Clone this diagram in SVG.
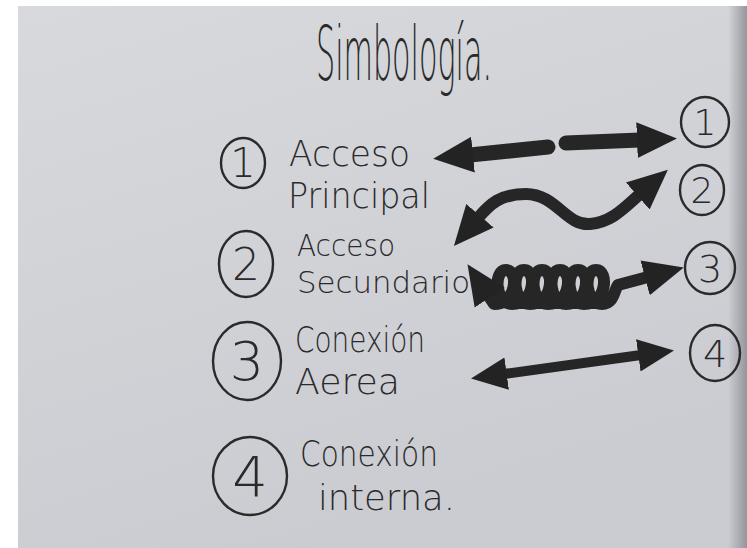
<svg xmlns="http://www.w3.org/2000/svg" width="747" height="548" viewBox="0 0 747 548">
<defs>
<linearGradient id="paper" x1="0" y1="0" x2="0.4" y2="1">
<stop offset="0" stop-color="#d8d9dd"/>
<stop offset="1" stop-color="#cbccd1"/>
</linearGradient>
<linearGradient id="shade" x1="0" y1="0" x2="1" y2="0">
<stop offset="0" stop-color="#8a8c91" stop-opacity="0"/>
<stop offset="1" stop-color="#8a8c91" stop-opacity="0.85"/>
</linearGradient>
<marker id="ah" viewBox="0 0 40 40" refX="3" refY="20" markerWidth="40" markerHeight="40" markerUnits="userSpaceOnUse" orient="auto-start-reverse">
<path d="M0,2 L40,20 L0,38 Z" fill="#232323"/>
</marker>
<marker id="ahs" viewBox="0 0 40 40" refX="3" refY="20" markerWidth="36" markerHeight="36" markerUnits="userSpaceOnUse" orient="auto-start-reverse">
<path d="M0,2 L40,20 L0,38 Z" fill="#232323"/>
</marker>
</defs>
<style>
text{font-family:"DejaVu Sans","Liberation Sans",sans-serif;font-weight:200;fill:#2a2a2a}
.l1{font-size:36px}
.l2{font-size:31px}
.num{text-anchor:middle}
.ring{fill:none;stroke:#2a2a2a;stroke-width:2.4}
.arr{fill:none;stroke:#262626;stroke-linecap:round;stroke-linejoin:round}
</style>
<rect width="747" height="548" fill="#ffffff"/>
<rect x="18" y="6" width="729" height="542" fill="url(#paper)"/>
<rect x="728" y="6" width="19" height="542" fill="url(#shade)"/>

<text id="title" x="316" y="80" font-size="74" textLength="176" lengthAdjust="spacingAndGlyphs">Simbología.</text>

<g id="legend-1">
<ellipse class="ring" cx="243" cy="163" rx="22" ry="25"/>
<text class="num" x="243" y="177" font-size="40">1</text>
<text class="l1" x="289" y="166" textLength="121" lengthAdjust="spacingAndGlyphs">Acceso</text>
<text class="l1" x="288" y="208" textLength="142" lengthAdjust="spacingAndGlyphs">Principal</text>
</g>
<g id="legend-2">
<ellipse class="ring" cx="246" cy="264" rx="27" ry="33"/>
<text class="num" x="246" y="280" font-size="44">2</text>
<text class="l2" x="297" y="256" textLength="98" lengthAdjust="spacingAndGlyphs">Acceso</text>
<text class="l2" x="297" y="293" textLength="173" lengthAdjust="spacingAndGlyphs">Secundario</text>
</g>
<g id="legend-3">
<ellipse class="ring" cx="247" cy="361" rx="34" ry="39"/>
<text class="num" x="247" y="380" font-size="54">3</text>
<text class="l1" x="295" y="352" textLength="130" lengthAdjust="spacingAndGlyphs">Conexión</text>
<text class="l1" x="295" y="394" textLength="105" lengthAdjust="spacingAndGlyphs">Aerea</text>
</g>
<g id="legend-4">
<ellipse class="ring" cx="250" cy="476" rx="37" ry="39"/>
<text class="num" x="250" y="496" font-size="56">4</text>
<text class="l1" x="300" y="466" textLength="138" lengthAdjust="spacingAndGlyphs">Conexión</text>
<text class="l1" x="318" y="510" textLength="137" lengthAdjust="spacingAndGlyphs">interna.</text>
</g>

<g id="tag-1">
<ellipse class="ring" cx="705" cy="122" rx="24" ry="25"/>
<text class="num" x="705" y="135" font-size="36">1</text>
</g>
<g id="tag-2">
<ellipse class="ring" cx="702" cy="190" rx="22" ry="25"/>
<text class="num" x="702" y="203" font-size="36">2</text>
</g>
<g id="tag-3">
<ellipse class="ring" cx="710" cy="268" rx="25" ry="26"/>
<text class="num" x="710" y="282" font-size="38">3</text>
</g>
<g id="tag-4">
<ellipse class="ring" cx="715" cy="353" rx="25" ry="28"/>
<text class="num" x="715" y="367" font-size="38">4</text>
</g>

<g id="connectors">
<path class="arr" stroke-width="15" d="M548,147 L470,155" marker-end="url(#ah)"/>
<path class="arr" stroke-width="15" d="M566,143 L640,140" marker-end="url(#ah)"/>
<path class="arr" stroke-width="12" d="M478,218 C490,204 500,194 526,194 C556,194 566,226 590,224 C612,222 624,208 640,194" marker-start="url(#ah)" marker-end="url(#ah)"/>
<path class="arr" stroke-width="12" d="M488,295 L494,304 C517,304 519,270 506,270 C493,270 495,304 512,304 C535,304 537,270 524,270 C511,270 513,304 530,304 C553,304 555,270 542,270 C529,270 531,304 548,304 C571,304 573,270 560,270 C547,270 549,304 566,304 C589,304 591,270 578,270 C565,270 567,304 584,304 C607,304 609,270 596,270 C583,270 585,304 602,304 C614,304 614,290 618,285 L648,277" marker-start="url(#ah)" marker-end="url(#ah)"/>
<path class="arr" stroke-width="10" d="M504,374 L641,355" marker-start="url(#ahs)" marker-end="url(#ahs)"/>
</g>
</svg>
